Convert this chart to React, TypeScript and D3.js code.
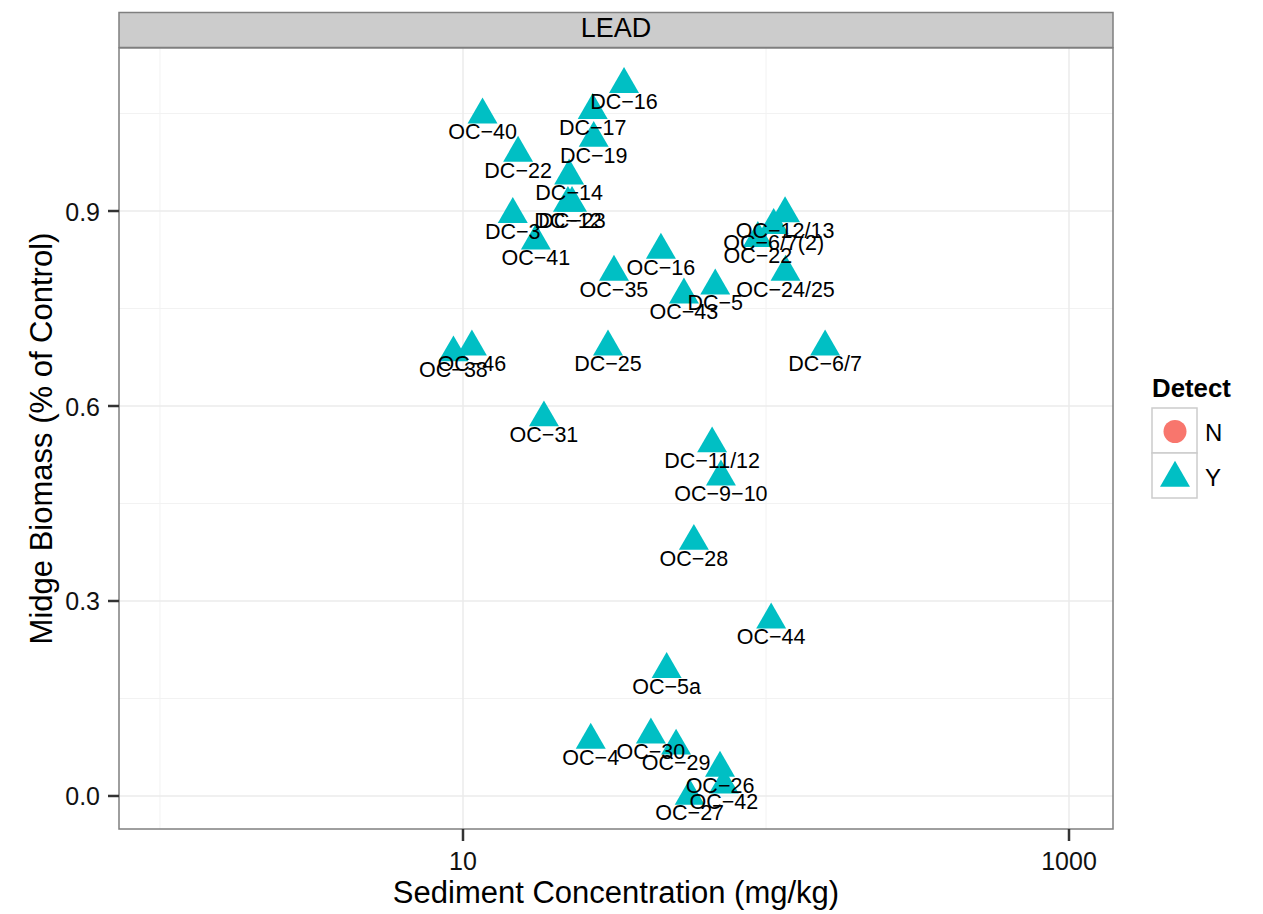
import React from "react";
import * as d3 from "d3";

const labels = [
  "DC−16","OC−40","DC−17","DC−19","DC−22","DC−14","DC−12","DC−23","DC−3","OC−41",
  "OC−16","OC−35","DC−5","OC−43","OC−12/13","OC−6/7(2)","OC−22","OC−24/25","OC−46","OC−38",
  "DC−25","DC−6/7","OC−31","DC−11/12","OC−9−10","OC−28","OC−44","OC−5a","OC−4","OC−30",
  "OC−29","OC−26","OC−42","OC−27",
];
const concentration = [
  34, 11.6, 26.8, 27, 15.2, 22.4, 22.2, 22.9, 14.6, 17.4,
  45, 31.5, 68, 53.6, 115.6, 106, 94, 116, 10.7, 9.3,
  30.1, 156.7, 18.5, 66.4, 71, 57.8, 104, 47, 26.4, 41.7,
  50.5, 70.5, 72.6, 56,
];
const biomass = [
  1.095, 1.048, 1.055, 1.012, 0.989, 0.954, 0.912, 0.912, 0.895, 0.854,
  0.84, 0.806, 0.785, 0.771, 0.896, 0.878, 0.858, 0.806, 0.691, 0.682,
  0.691, 0.691, 0.582, 0.542, 0.491, 0.392, 0.271, 0.195, 0.086, 0.094,
  0.077, 0.043, 0.017, 0.0,
];
const detect = labels.map(() => "Y");
const xMajor = [10, 1000];
const xMinor = [1, 100];
const yMajor = [0, 0.3, 0.6, 0.9];
const yMinor = [0.15, 0.45, 0.75, 1.05];
const legendKeys = ["N", "Y"];
const colors: Record<string, string> = { N: "#F8766D", Y: "#00BFC4" };

const W = 1263, H = 914;
const P = { l: 119, r: 1113, t: 48, b: 829 };

const x = d3.scaleLog().domain([Math.pow(10, -0.1353), Math.pow(10, 3.1452)]).range([P.l, P.r]);
const y = d3.scaleLinear().domain([-0.0508, 1.1508]).range([P.b, P.t]);

const R = 17.3;
const tri = (cx: number, cy: number) => {
  const h = R * 0.866, yc = R / 2;
  return `M${cx},${cy - R}L${cx + h},${cy + yc}L${cx - h},${cy + yc}Z`;
};

const font = "Liberation Sans, Arial, Helvetica, sans-serif";

export default function App() {
  const pts = labels.map((lab, i) => ({ lab, xv: concentration[i], yv: biomass[i], d: detect[i] }));
  return (
    <div style={{ position: "absolute", left: 0, top: 0 }}>
      <svg width={W} height={H} style={{ display: "block", fontFamily: font }}>
        <rect x={0} y={0} width={W} height={H} fill="#fff" />
        {/* strip */}
        <rect x={P.l} y={12.5} width={P.r - P.l} height={35} fill="#CCCCCC" stroke="#7F7F7F" strokeWidth={1.5} />
        <text x={(P.l + P.r) / 2} y={37} textAnchor="middle" fontSize={27} fill="#000">LEAD</text>
        {/* panel */}
        <rect x={P.l} y={P.t} width={P.r - P.l} height={P.b - P.t} fill="#fff" />
        {xMinor.map((v) => (
          <line key={"xm" + v} x1={x(v)} x2={x(v)} y1={P.t} y2={P.b} stroke="#F2F2F2" strokeWidth={1} />
        ))}
        {yMinor.map((v) => (
          <line key={"ym" + v} x1={P.l} x2={P.r} y1={y(v)} y2={y(v)} stroke="#F2F2F2" strokeWidth={1} />
        ))}
        {xMajor.map((v) => (
          <line key={"xM" + v} x1={x(v)} x2={x(v)} y1={P.t} y2={P.b} stroke="#EBEBEB" strokeWidth={1.5} />
        ))}
        {yMajor.map((v) => (
          <line key={"yM" + v} x1={P.l} x2={P.r} y1={y(v)} y2={y(v)} stroke="#EBEBEB" strokeWidth={1.5} />
        ))}
        {pts.map((p, i) => (
          <path key={"p" + i} d={tri(x(p.xv), y(p.yv))} fill={colors[p.d]} />
        ))}
        {pts.map((p, i) => (
          <text key={"t" + i} x={x(p.xv)} y={y(p.yv) + 24.5} textAnchor="middle" fontSize={21.5} fill="#000">
            {p.lab}
          </text>
        ))}
        <rect x={P.l} y={P.t} width={P.r - P.l} height={P.b - P.t} fill="none" stroke="#7F7F7F" strokeWidth={1.5} />
        {/* axes */}
        {yMajor.map((v) => (
          <g key={"yt" + v}>
            <line x1={P.l - 11} x2={P.l} y1={y(v)} y2={y(v)} stroke="#333" strokeWidth={2.5} />
            <text x={100} y={y(v) + 9.5} textAnchor="end" fontSize={25} fill="#111">
              {d3.format(".1f")(v)}
            </text>
          </g>
        ))}
        {xMajor.map((v) => (
          <g key={"xt" + v}>
            <line x1={x(v)} x2={x(v)} y1={P.b} y2={P.b + 12} stroke="#333" strokeWidth={2.5} />
            <text x={x(v)} y={870} textAnchor="middle" fontSize={25} fill="#111">
              {String(v)}
            </text>
          </g>
        ))}
        <text x={(P.l + P.r) / 2} y={903} textAnchor="middle" fontSize={31} fill="#000">
          Sediment Concentration (mg/kg)
        </text>
        <text transform={`translate(52,${(P.t + P.b) / 2}) rotate(-90)`} textAnchor="middle" fontSize={31} fill="#000">
          Midge Biomass (% of Control)
        </text>
        {/* legend */}
        <text x={1152} y={397} fontSize={25.8} fontWeight="bold" fill="#000">Detect</text>
        {legendKeys.map((k, i) => {
          const top = 408 + i * 45;
          const cx = 1175, cy = top + 22.5;
          return (
            <g key={"lg" + k}>
              <rect x={1152} y={top} width={45} height={45} fill="#fff" stroke="#CCCCCC" strokeWidth={1.5} />
              {k === "N" ? (
                <circle cx={cx} cy={cy + 1} r={11.5} fill={colors[k]} />
              ) : (
                <path d={tri(cx, cy + 2.5)} fill={colors[k]} />
              )}
              <text x={1205} y={cy + 10.5} fontSize={24} fill="#000">{k}</text>
            </g>
          );
        })}
      </svg>
    </div>
  );
}
